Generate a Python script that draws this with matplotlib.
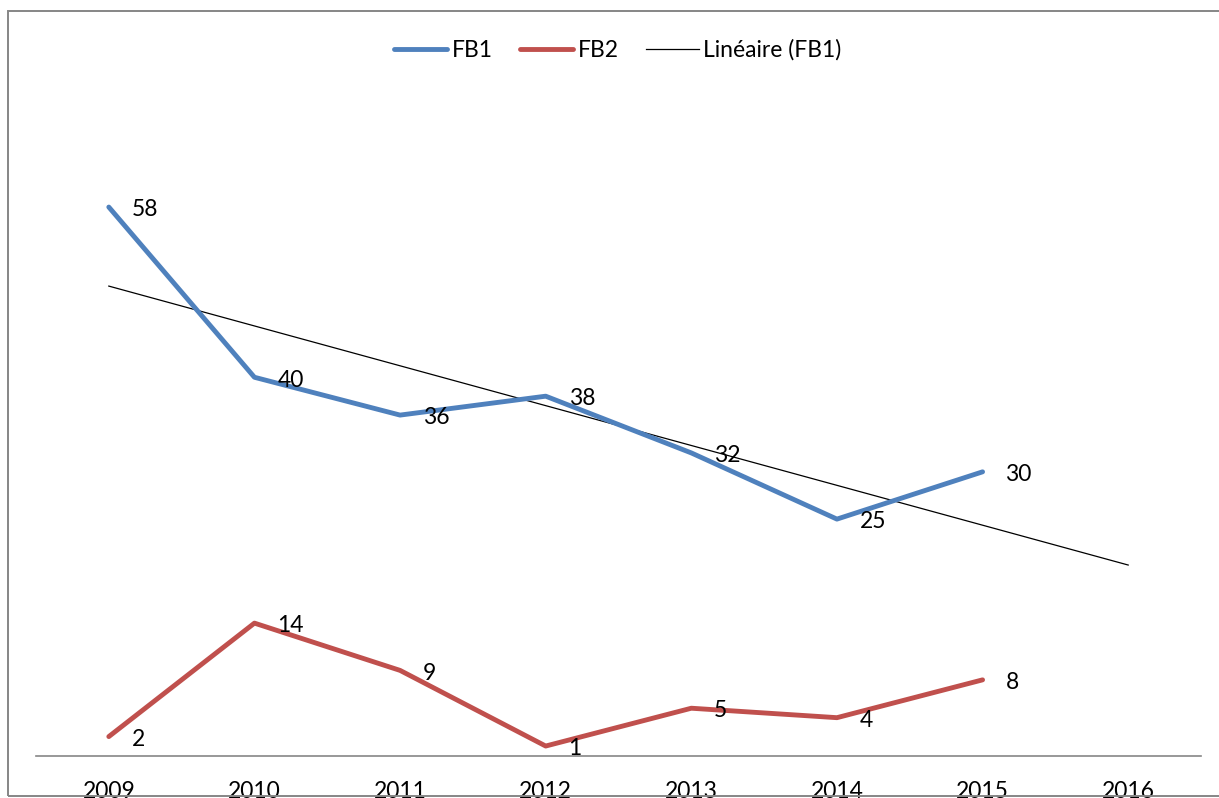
import numpy as np
import matplotlib
matplotlib.use("Agg")
import matplotlib.pyplot as plt
from matplotlib.patches import Rectangle

years = ["2009", "2010", "2011", "2012", "2013", "2014", "2015", "2016"]
fb1 = [58, 40, 36, 38, 32, 25, 30]
fb2 = [2, 14, 9, 1, 5, 4, 8]

plt.rcParams['font.family'] = ['Lato', 'DejaVu Sans']

W, H = 1219, 798
fig = plt.figure(figsize=(W / 100, H / 100), dpi=100)
ax_left, ax_right, ax_bottom, ax_top = 36, 1201, 755.5, 93.6
ax = fig.add_axes([ax_left / W, (H - ax_bottom) / H, (ax_right - ax_left) / W, (ax_bottom - ax_top) / H])

blue = '#4F81BD'
red = '#C0504D'

x_data = np.arange(len(fb1))
ax.plot(x_data, fb1, color=blue, lw=3.5, solid_capstyle='round', solid_joinstyle='round', label='FB1', zorder=3)
ax.plot(np.arange(len(fb2)), fb2, color=red, lw=3.5, solid_capstyle='round', solid_joinstyle='round', label='FB2', zorder=3)

# Linear trendline of FB1 (forecast one period forward)
coef = np.polyfit(x_data + 1, fb1, 1)
x_tr = np.arange(len(years))
ax.plot(x_tr, np.polyval(coef, x_tr + 1), color='black', lw=0.9, label='Linéaire (FB1)', zorder=2)

for xs, ys in ((x_data, fb1), (np.arange(len(fb2)), fb2)):
    for xi, yi in zip(xs, ys):
        ax.annotate(str(yi), (xi, yi), xytext=(16.5, -2), textcoords='offset points',
                    ha='left', va='center', fontsize=16.5, color='black', zorder=4)

ax.set_xlim(-0.5, len(years) - 0.5)
ax.set_ylim(0, 70)
ax.set_xticks(np.arange(len(years)))
ax.set_xticklabels(years, fontsize=16.5)
ax.tick_params(axis='x', length=0, pad=18.5)
ax.set_yticks([])
for s in ('left', 'right', 'top'):
    ax.spines[s].set_visible(False)
ax.spines['bottom'].set_color('#868686')
ax.spines['bottom'].set_linewidth(1.2)

leg = fig.legend(loc='center', bbox_to_anchor=(618 / W, (H - 50) / H), ncol=3, frameon=False,
                 fontsize=16.5, handlelength=2.3, handletextpad=0.2, columnspacing=1.2)

# chart area border
fig.add_artist(Rectangle((8 / W, (H - 796) / H), (W + 20 - 8) / W, (796 - 11) / H,
                         transform=fig.transFigure, fill=False, edgecolor='#868686',
                         lw=1.4, clip_on=False, zorder=10))

fig.savefig('out.png', dpi=100)
